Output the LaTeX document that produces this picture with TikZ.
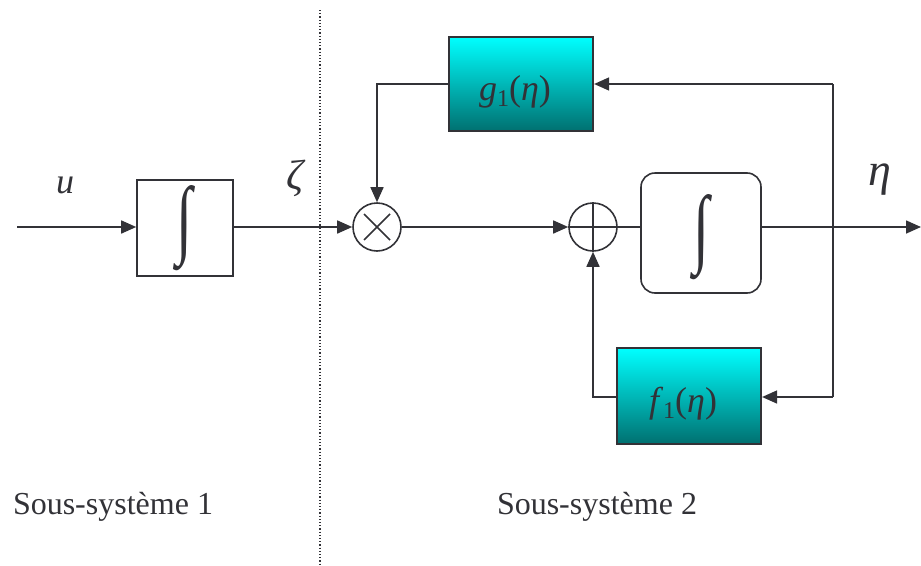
\documentclass[tikz,border=0pt]{standalone}
\usepackage{graphicx}
\usepackage{fontspec}
\setmainfont{Liberation Serif}
\usetikzlibrary{arrows.meta,shapes.geometric}
\definecolor{ln}{RGB}{50,50,55}
\definecolor{teal1}{RGB}{0,112,112}
\newcommand{\bigintsym}{\resizebox{16pt}{62pt}{∫}}
\begin{document}
\begin{tikzpicture}[x=1pt,y=-1pt,
  wire/.style={draw=ln,line width=1.6pt},
  arr/.style={wire,-{Triangle[length=15pt,width=13pt]}},
  plainbox/.style={draw=ln,line width=1.6pt,fill=white,inner sep=0pt},
  fbox/.style={draw=ln,line width=2.2pt,top color=cyan,bottom color=teal1,inner sep=0pt},
  opcirc/.style={circle,draw=ln,line width=1.6pt,minimum size=48pt,inner sep=0pt},
  lbl/.style={inner sep=0pt,text=ln}]
\useasboundingbox (0,0) rectangle (921,565);
% dotted separator
\draw[ln,dotted,line width=1.2pt] (320,10) -- (320,565);
% nodes
\node[plainbox,minimum width=96pt,minimum height=96pt] (int1) at (185,228) {};
\node[lbl] at (int1.center) {\bigintsym};
\node[opcirc] (mul) at (377,227) {};
\node[opcirc] (sum) at (593,227) {};
\node[plainbox,rounded corners=14pt,minimum width=120pt,minimum height=120pt] (int2) at (701,233) {};
\node[lbl] at ([yshift=-4pt]int2.center) {\bigintsym};
\node[fbox,minimum width=144pt,minimum height=94pt] (g1) at (521,84) {};
\node[lbl] at (515,92) {\fontsize{36}{38}\selectfont\textit{g}\raisebox{-6pt}{\fontsize{24}{26}\selectfont 1}(\textit{η})};
\node[fbox,minimum width=144pt,minimum height=96pt] (f1) at (689,396) {};
\node[lbl] at (683,404) {\fontsize{36}{38}\selectfont\textit{f}\raisebox{-6pt}{\fontsize{24}{26}\selectfont 1}(\textit{η})};
% symbols in circles
\draw[wire] ([shift={(-13,-13)}]mul.center) -- ([shift={(13,13)}]mul.center);
\draw[wire] ([shift={(-13,13)}]mul.center) -- ([shift={(13,-13)}]mul.center);
\draw[wire] (sum.north) -- (sum.south);
\draw[wire] (sum.west) -- (sum.east);
% coordinates
\coordinate (in) at (17,227);
\coordinate (out) at (921,227);
\coordinate (tapTop) at (833,84);
\coordinate (tapBot) at (833,397);
\coordinate (gcorner) at (377,84);
\coordinate (fcorner) at (593,397);
% connectors
\draw[arr] (in) -- (int1.west |- in);
\draw[arr] (int1.east |- in) -- (mul.west);
\draw[arr] (g1.west) -- (gcorner) -- (mul.north);
\draw[arr] (mul.east) -- (sum.west);
\draw[wire] (sum.east) -- (int2.west |- sum.east);
\draw[arr] (int2.east |- out) -- (out);
\draw[arr] (tapTop) -- (g1.east);
\draw[wire] (tapTop) -- (tapBot);
\draw[arr] (tapBot) -- (f1.east |- tapBot);
\draw[arr] (f1.west |- fcorner) -- (fcorner) -- (sum.south);
% labels
\node[lbl] at (65,185) {\fontsize{36}{38}\selectfont\textit{u}};
\node[lbl] at (296,178) {\fontsize{42}{44}\selectfont\textit{ζ}};
\node[lbl] at (880,180) {\fontsize{46}{48}\selectfont\textit{η}};
\node[lbl] at (113,507) {\fontsize{32}{34}\selectfont Sous-système 1};
\node[lbl] at (597,507) {\fontsize{32}{34}\selectfont Sous-système 2};
\end{tikzpicture}
\end{document}
